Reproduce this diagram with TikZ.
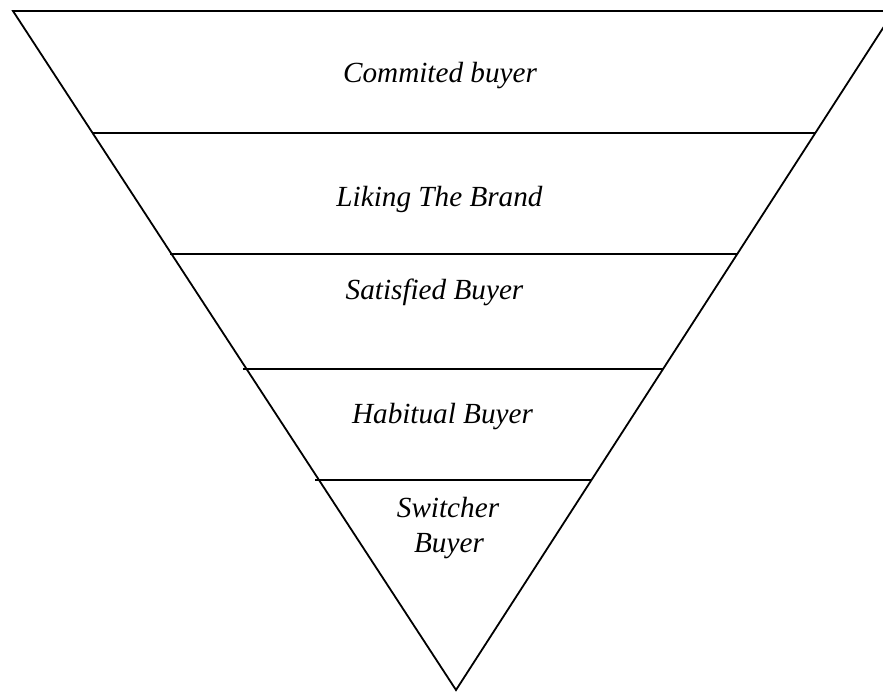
\documentclass[tikz,border=0pt]{standalone}
\usepackage{fontspec}
\setmainfont{Liberation Serif}
\usepackage{tikz}

\begin{document}
\begin{tikzpicture}[x=0.5pt, y=-0.5pt, line width=0.9pt,
    level/.style={font=\fontsize{14.6}{17}\selectfont\itshape, anchor=base, inner sep=0pt}]
    \clip (0,0) rectangle (883,693);
    \coordinate (TL) at (13, 11);
    \coordinate (TR) at (894, 11);
    \coordinate (V) at (456, 690);
    \draw (TL) -- (TR) -- (V) -- cycle;
    % the four cuts across the funnel
    \coordinate (L1) at (93, 133);  \coordinate (R1) at (815, 133);
    \coordinate (L2) at (170, 254); \coordinate (R2) at (737, 254);
    \coordinate (L3) at (243, 369); \coordinate (R3) at (663, 369);
    \coordinate (L4) at (315, 480); \coordinate (R4) at (592, 480);
    \draw (L1) -- (R1);
    \draw (L2) -- (R2);
    \draw (L3) -- (R3);
    \draw (L4) -- (R4);
    \node[level] (committed) at (440, 82) {Commited buyer};
    \node[level] (liking) at (439.5, 206) {Liking The Brand};
    \node[level] (satisfied) at (434.5, 299) {Satisfied Buyer};
    \node[level] (habitual) at (442.5, 423) {Habitual Buyer};
    \node[level] (switcher) at (448, 517) {Switcher};
    \node[level] (buyer) at (449, 552) {Buyer};
\end{tikzpicture}
\end{document}
